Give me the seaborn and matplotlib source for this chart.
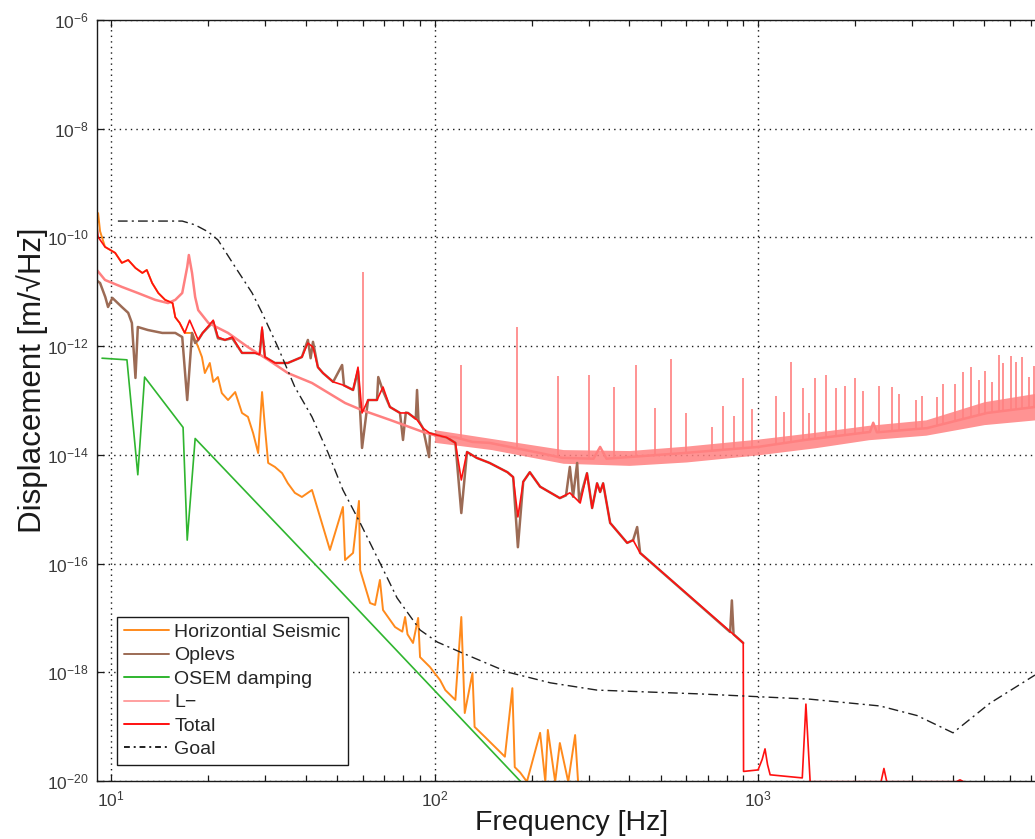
import numpy as np
import seaborn as sns
import matplotlib
matplotlib.use("Agg")
import matplotlib.pyplot as plt
from matplotlib.lines import Line2D
from matplotlib.ticker import FixedLocator, LogLocator, FuncFormatter, NullFormatter, NullLocator

# --- values (frequency in Hz, displacement in m/rtHz) ---
seismic_f = [9.05, 9.12, 9.25, 9.58, 10.3, 10.8, 11.3, 11.9, 12.5, 12.9, 13.4, 14.0, 14.7, 15.5, 15.8,
             16.3, 16.9, 17.8, 18.6, 19.1, 19.5, 20.2, 20.7, 21.4, 22.0, 23.0, 24.2, 25.4, 26.5, 27.5,
             28.5, 29.3, 29.9, 30.6, 32.1, 33.8, 35.2, 37.0, 38.9, 41.8, 47.5, 52.1, 52.9, 56.0, 58.4,
             58.9, 63.2, 65.5, 67.8, 69.3, 75.5, 79.5, 81.1, 82.5, 85.8, 89.0, 90.2, 96.8, 100, 104,
             108, 116, 121, 124, 131, 133, 143, 154, 165, 174, 177, 184, 193, 212, 220, 224, 236, 244,
             259, 272, 278]
seismic_a = [1.8e-10, 2.8e-10, 1.3e-10, 6.7e-11, 5.2e-11, 3.4e-11, 3.85e-11, 2.74e-11, 2.22e-11, 2.52e-11,
             1.45e-11, 9.5e-12, 7.1e-12, 6.2e-12, 3.4e-12, 2.67e-12, 1.75e-12, 1.75e-12, 9.6e-13, 6.3e-13,
             3.2e-13, 4.9e-13, 2.2e-13, 2.7e-13, 1.37e-13, 1.02e-13, 1.43e-13, 5.9e-14, 5.0e-14, 2.5e-14,
             1.08e-14, 1.43e-13, 3.26e-14, 7.1e-15, 6.0e-15, 4.6e-15, 3.0e-15, 2.0e-15, 1.68e-15, 2.26e-15,
             1.78e-16, 1.1e-15, 1.16e-16, 1.57e-16, 1.42e-15, 7.6e-17, 1.88e-17, 1.73e-17, 5.0e-17, 1.4e-17,
             6.8e-18, 5.6e-18, 1.04e-17, 5.0e-18, 3.46e-18, 1.0e-17, 1.9e-18, 1.25e-18, 9.7e-19, 7.2e-19,
             4.7e-19, 3.1e-19, 1.04e-17, 1.78e-19, 9.7e-19, 9.9e-20, 6.5e-20, 4.2e-20, 2.8e-20, 5.1e-19,
             1.8e-20, 1.43e-20, 9.7e-21, 7.7e-20, 9.7e-21, 8.7e-20, 9.7e-21, 5.0e-20, 9.7e-21, 7.0e-20, 9e-21]

oplev_f = [9.05, 9.25, 9.6, 9.79, 10.1, 10.8, 11.3, 11.6, 11.9, 12.1, 13.0, 14.4, 15.8, 16.6, 17.2,
           17.8, 18.2, 18.6, 19.2, 20.7, 21.4, 22.5, 23.7, 25.4, 27.9, 28.8, 29.3, 29.9, 32.1, 35.2,
           38.9, 40.6, 41.4, 42.1, 43.6, 45.2, 48.6, 51.8, 52.5, 56.0, 58.0, 59.7, 62.3, 66.4, 67.0,
           69.3, 72.8, 78.2, 79.9, 81.5, 82.8, 87.5, 88.3, 89.2, 92.1, 96.2, 96.8, 102, 109, 116,
           121, 126, 135, 148, 168, 175, 181, 188, 197, 212, 244, 255, 262, 268, 276, 280, 296, 307,
           318, 325, 332, 349, 394, 411, 423, 432, 820, 830, 840, 880, 900]
oplev_a = [1.6e-11, 1.45e-11, 8.0e-12, 5.25e-12, 7.7e-12, 5.25e-12, 4.1e-12, 2.67e-12, 2.6e-13, 2.25e-12,
           1.98e-12, 1.75e-12, 1.75e-12, 1.47e-12, 1.02e-13, 1.75e-12, 1.14e-12, 1.3e-12, 1.75e-12, 2.8e-12,
           1.4e-12, 1.3e-12, 1.4e-12, 7.5e-13, 7.5e-13, 7.0e-13, 2.0e-12, 6.3e-13, 4.9e-13, 4.9e-13,
           6.3e-13, 1.3e-12, 6.0e-13, 1.2e-12, 4.1e-13, 3.2e-13, 2.2e-13, 4.5e-13, 1.9e-13, 1.56e-13,
           3.5e-13, 1.34e-14, 1.02e-13, 1.02e-13, 2.7e-13, 1.5e-13, 7.6e-14, 5.9e-14, 1.88e-14, 6.0e-14,
           5.9e-14, 4.6e-14, 1.56e-13, 4.3e-14, 3.1e-14, 9.1e-15, 2.5e-14, 2.3e-14, 2.1e-14, 1.66e-14,
           8.5e-16, 1.13e-14, 8.8e-15, 7.1e-15, 4.8e-15, 3.9e-15, 2.0e-16, 3.2e-15, 4.8e-15, 2.6e-15,
           1.6e-15, 1.8e-15, 6.0e-15, 1.7e-15, 7.1e-15, 1.4e-15, 4.6e-15, 1.05e-15, 3.0e-15, 2.07e-15,
           3.0e-15, 5.6e-16, 2.4e-16, 2.7e-16, 4.7e-16, 1.57e-16, 5.5e-18, 2.1e-17, 5.0e-18, 3.9e-18, 3.46e-18]

osem_f = [9.38, 11.2, 12.1, 12.7, 16.7, 17.2, 18.2, 47.5, 200]
osem_a = [6.0e-13, 5.6e-13, 4.3e-15, 2.7e-13, 3.2e-14, 2.7e-16, 2.0e-14, 5.0e-17, 5.9e-21]

lminus_f = [9.05, 9.58, 10.8, 12.1, 13.7, 15.0, 15.8, 16.6, 17.2, 17.4, 17.8, 18.2, 18.6, 20.0, 23.0,
            26.5, 30.6, 35.2, 41.8, 52.9, 59.5, 72.8, 92.1, 100, 116, 131, 148, 212, 248, 310, 325,
            340, 590, 1000, 1397, 2218, 2270, 2330, 3327, 5105, 7180]
lminus_a = [2.5e-11, 1.65e-11, 1.23e-11, 9.5e-12, 7.1e-12, 6.2e-12, 7.1e-12, 9.5e-12, 2.86e-11, 4.75e-11,
            2.22e-11, 8.0e-12, 4.6e-12, 2.67e-12, 1.75e-12, 9.6e-13, 5.6e-13, 3.2e-13, 2.1e-13, 9.0e-14,
            6.7e-14, 4.4e-14, 2.64e-14, 2.3e-14, 2.1e-14, 1.73e-14, 1.66e-14, 1.08e-14, 8.8e-15, 8.5e-15,
            1.4e-14, 8.5e-15, 1.08e-14, 1.4e-14, 1.88e-14, 2.64e-14, 3.9e-14, 2.6e-14, 3.1e-14, 5.9e-14, 7.6e-14]

# noise band of the L- trace above 100 Hz
lband_f = [100, 150, 250, 400, 600, 1000, 1500, 2200, 3300, 5000, 7180]
lband_lo = [1.7e-14, 1.25e-14, 7.0e-15, 6.4e-15, 7.4e-15, 1.0e-14, 1.35e-14, 1.9e-14, 2.3e-14, 3.6e-14, 4.4e-14]
lband_hi = [2.9e-14, 2.0e-14, 1.25e-14, 1.2e-14, 1.45e-14, 1.95e-14, 2.6e-14, 3.5e-14, 4.4e-14, 9.5e-14, 1.35e-13]

# line harmonics on the L- trace
lspike_f = [60.1, 120.8, 180, 240, 300, 360, 420, 480, 540, 600, 720, 780, 840, 900, 960, 1140, 1200,
            1260, 1380, 1440, 1500, 1620, 1740, 1860, 2000, 2112, 2366, 2594, 2728, 3078, 3212, 3575,
            3732, 4064, 4303, 4553, 4819, 5032, 5287, 5559, 5720, 6058, 6278, 6550, 6884, 7131]
lspike_peak = [2.3e-11, 4.5e-13, 2.25e-12, 2.8e-13, 2.9e-13, 1.77e-13, 4.5e-13, 7.3e-14, 5.8e-13, 5.9e-14,
               3.3e-14, 7.9e-14, 5.2e-14, 2.6e-13, 7.0e-14, 1.2e-13, 6.1e-14, 5.1e-13, 1.7e-13, 5.9e-14,
               2.6e-13, 2.9e-13, 1.7e-13, 1.84e-13, 2.6e-13, 1.5e-13, 1.84e-13, 1.77e-13, 1.3e-13, 1.02e-13,
               1.2e-13, 1.16e-13, 2.0e-13, 2.0e-13, 3.4e-13, 4.1e-13, 2.4e-13, 3.5e-13, 2.2e-13, 6.9e-13,
               4.9e-13, 6.6e-13, 5.1e-13, 6.4e-13, 2.7e-13, 4.4e-13]
lspike_base = [6.6e-14, 2.0e-14, 1.4e-14, 9e-15, 8.5e-15, 8.5e-15, 9e-15, 9.5e-15, 1.0e-14, 1.1e-14,
               1.2e-14, 1.25e-14, 1.3e-14, 1.35e-14, 1.4e-14, 1.6e-14, 1.65e-14, 1.7e-14, 1.85e-14, 1.9e-14,
               2.0e-14, 2.1e-14, 2.25e-14, 2.4e-14, 2.5e-14, 2.6e-14, 2.7e-14, 2.8e-14, 2.9e-14, 3.0e-14,
               3.1e-14, 3.6e-14, 3.9e-14, 4.3e-14, 4.6e-14, 5.0e-14, 5.4e-14, 5.7e-14, 6.0e-14, 6.3e-14,
               6.5e-14, 6.8e-14, 7.0e-14, 7.2e-14, 7.4e-14, 7.6e-14]

total_f = [9.05, 9.12, 9.58, 10.3, 10.8, 11.3, 11.9, 12.5, 12.9, 13.4, 14.0, 14.7, 15.5, 15.8, 16.3,
           16.9, 17.5, 18.2, 18.6, 19.2, 20.7, 21.4, 22.5, 23.7, 25.4, 27.9, 28.8, 29.3, 29.9, 32.1,
           35.2, 38.9, 40.6, 42.1, 43.6, 45.2, 48.6, 52.1, 56.0, 58.0, 59.7, 62.3, 66.4, 69.3, 72.8,
           78.2, 82.8, 88.3, 92.1, 96.8, 102, 109, 116, 121, 126, 135, 148, 168, 175, 181, 188, 197,
           212, 244, 262, 276, 282, 296, 307, 318, 325, 332, 349, 394, 411, 432, 880, 900, 902, 1000,
           1030, 1051, 1070, 1090, 1370, 1406, 1449, 2400, 2450, 2500, 4100, 4210, 4320]
total_a = [1.6e-10, 1.02e-10, 6.7e-11, 5.2e-11, 3.4e-11, 3.85e-11, 2.74e-11, 2.22e-11, 2.52e-11, 1.45e-11,
           9.5e-12, 7.1e-12, 6.2e-12, 3.4e-12, 2.67e-12, 1.75e-12, 3.0e-12, 1.75e-12, 1.3e-12, 1.75e-12,
           3.0e-12, 1.47e-12, 1.3e-12, 1.47e-12, 7.5e-13, 7.5e-13, 7.0e-13, 2.25e-12, 6.3e-13, 4.9e-13,
           4.9e-13, 6.3e-13, 1.14e-12, 9.6e-13, 4.1e-13, 3.2e-13, 2.2e-13, 1.93e-13, 1.56e-13, 4.1e-13,
           5.9e-14, 1.02e-13, 1.02e-13, 1.77e-13, 7.6e-14, 5.9e-14, 5.9e-14, 4.4e-14, 3.1e-14, 2.5e-14,
           2.3e-14, 2.1e-14, 1.66e-14, 3.45e-15, 1.13e-14, 8.8e-15, 7.1e-15, 4.8e-15, 3.9e-15, 7.2e-16,
           3.2e-15, 4.8e-15, 2.6e-15, 1.6e-15, 2.0e-15, 1.48e-15, 1.3e-15, 4.6e-15, 1.05e-15, 3.0e-15,
           2.07e-15, 3.0e-15, 5.6e-16, 2.4e-16, 2.7e-16, 1.57e-16, 3.9e-18, 3.46e-18, 1.5e-20, 1.6e-20,
           2.5e-20, 3.9e-20, 2.0e-20, 1.3e-20, 1.14e-20, 2.6e-19, 9.7e-21, 9.7e-21, 1.7e-20, 9.7e-21,
           9.7e-21, 1.05e-20, 9.7e-21]

goal_f = [10.5, 16.6, 18.2, 20.0, 21.4, 24.2, 27.3, 29.3, 32.8, 37.0, 41.8, 46.9, 52.1, 58.9, 67.8,
          76.6, 90.2, 102, 122, 168, 228, 318, 662, 1449, 2383, 3101, 4006, 5212, 7180]
goal_a = [2.0e-10, 2.0e-10, 1.7e-10, 1.26e-10, 9.0e-11, 2.86e-11, 9.5e-12, 4.1e-12, 9.6e-13, 1.77e-13,
          5.0e-14, 1.08e-14, 2.26e-15, 5.6e-16, 1.03e-16, 2.33e-17, 6.0e-18, 3.6e-18, 2.26e-18, 1.01e-18,
          6.4e-19, 4.7e-19, 4.0e-19, 3.2e-19, 2.4e-19, 1.6e-19, 7.7e-20, 2.7e-19, 8.9e-19]

legend_labels = ["Horizontial Seismic", "Oplevs", "OSEM damping", "L\u2212", "Total", "Goal"]
y_ticks = [1e-20, 1e-18, 1e-16, 1e-14, 1e-12, 1e-10, 1e-8, 1e-6]
x_ticks = [10, 100, 1000]

ORANGE = "#ff8a1c"
BROWN = "#9c6b55"
GREEN = "#2fb52f"
PINK = "#ff8080"
RED = "#ff1010"
GOAL = "#202020"


def decade_label(v, pos):
    return r"$10^{%d}$" % int(round(np.log10(v)))


def main() -> None:
    sns.set_theme(style="white")
    plt.rcParams["font.family"] = ["Liberation Sans", "DejaVu Sans"]
    plt.rcParams["mathtext.default"] = "regular"

    fig = plt.figure(figsize=(10.35, 8.39), dpi=100)
    ax = fig.add_axes([97 / 1035, 58 / 839, 938 / 1035, 761 / 839])
    ax.set_xscale("log")
    ax.set_yscale("log")

    sns.lineplot(x=seismic_f, y=seismic_a, ax=ax, color=ORANGE, linewidth=1.4, sort=False, estimator=None)
    sns.lineplot(x=oplev_f, y=oplev_a, ax=ax, color=BROWN, linewidth=1.8, sort=False, estimator=None)
    sns.lineplot(x=osem_f, y=osem_a, ax=ax, color=GREEN, linewidth=1.2, sort=False, estimator=None)
    ax.fill_between(lband_f, lband_lo, lband_hi, color=PINK, alpha=0.85, linewidth=0)
    ax.vlines(lspike_f, lspike_base, lspike_peak, color=PINK, linewidth=1.2)
    sns.lineplot(x=lminus_f, y=lminus_a, ax=ax, color=PINK, linewidth=1.8, sort=False, estimator=None)
    sns.lineplot(x=total_f, y=total_a, ax=ax, color=RED, linewidth=1.2, sort=False, estimator=None)
    sns.lineplot(x=goal_f, y=goal_a, ax=ax, color=GOAL, linewidth=1.0, sort=False, estimator=None)
    ax.get_lines()[-1].set_dashes((7, 3, 1.5, 3))

    ax.set_xlim(9.05, 7180)
    ax.set_ylim(1e-20, 1e-6)

    ax.xaxis.set_major_locator(FixedLocator(x_ticks))
    ax.xaxis.set_minor_locator(LogLocator(base=10, subs=np.arange(2, 10)))
    ax.xaxis.set_major_formatter(FuncFormatter(decade_label))
    ax.xaxis.set_minor_formatter(NullFormatter())
    ax.yaxis.set_major_locator(FixedLocator(y_ticks))
    ax.yaxis.set_minor_locator(NullLocator())
    ax.yaxis.set_major_formatter(FuncFormatter(decade_label))

    ax.tick_params(which="both", direction="in", top=True, bottom=True, left=True, right=False,
                   color="k", width=0.9)
    ax.tick_params(which="major", length=5, labelsize=12.5, labelcolor="#3a3a3a", pad=6)
    ax.tick_params(which="minor", length=4)

    ax.grid(True, which="major", color="k", linestyle=(0, (1, 3)), linewidth=1.0)
    for side in ["left", "bottom", "top"]:
        ax.spines[side].set_color("k")
        ax.spines[side].set_linewidth(1.0)
    ax.spines["right"].set_visible(False)

    ax.set_xlabel("Frequency [Hz]", fontsize=20.5, color="k")
    ax.xaxis.set_label_coords(0.506, -0.038)
    ax.set_ylabel("Displacement [m/\u221aHz]", fontsize=22.5, color="k")
    ax.yaxis.set_label_coords(-0.052, 0.527)

    colors = [ORANGE, BROWN, GREEN, "#ffa0a0", RED, GOAL]
    handles = [Line2D([], [], color=c, linewidth=1.4) for c in colors]
    handles[-1].set_dashes((3, 2, 1, 2))
    leg = ax.legend(handles, legend_labels, loc="lower left", bbox_to_anchor=(0.0213, 0.021),
                    borderaxespad=0, frameon=True, fancybox=False, framealpha=1, edgecolor="k",
                    fontsize=14, handlelength=2.3, handletextpad=0.3, labelspacing=0.3, borderpad=0.35)
    leg.get_frame().set_linewidth(1.0)

    fig.savefig("out.png", dpi=100)
    plt.close(fig)


if __name__ == "__main__":
    main()
